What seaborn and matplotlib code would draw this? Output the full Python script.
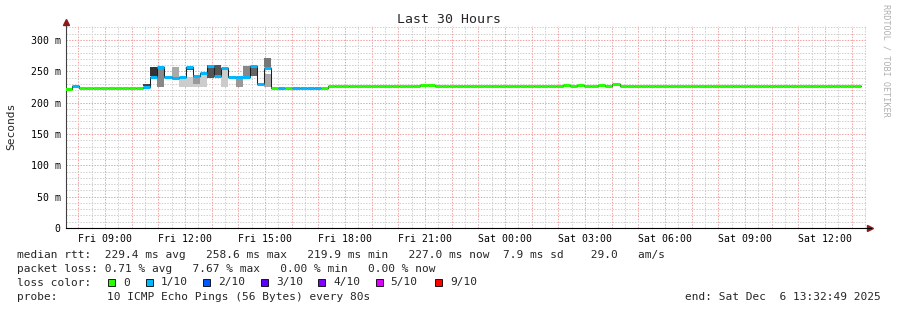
import numpy as np
import pandas as pd
import matplotlib
matplotlib.use("Agg")
import matplotlib.pyplot as plt
import matplotlib.dates as mdates
from matplotlib.patches import Rectangle
from matplotlib.ticker import MultipleLocator, FuncFormatter
import seaborn as sns

# ---------------- data ----------------
title = "Last 30 Hours"
window_start = pd.Timestamp("2025-12-05 07:32:49")
window_end = pd.Timestamp("2025-12-06 13:32:49")
sample_start = "2025-12-05 07:29:45"
sample_step = "16min"

median_ms = [
    221, 226, 224, 224, 224, 224, 224, 224, 224, 224,
    224, 225, 241.7, 257.5, 241, 239.5, 241.7, 257.5, 242, 247.3,
    258.5, 242.5, 255.3, 241, 241, 241, 258.5, 230, 256, 224,
    224, 224, 224, 224, 224, 224, 224, 226.5, 226.5, 226.5,
    226.5, 226.5, 226.5, 226.5, 226.5, 226.5, 226.5, 226.5, 226.5, 226.5,
    228, 228, 226.5, 226.5, 226.5, 226.5, 226.5, 226.5, 226.5, 226.5,
    226.5, 226.5, 226.5, 226.5, 226.5, 226.5, 226.5, 226.5, 226.5, 226.5,
    228, 226, 228, 226.5, 226.5, 228, 226.5, 229, 226.5, 226.5,
    226.5, 226.5, 226.5, 226.5, 226.5, 226.5, 226.5, 226.5, 226.5, 226.5,
    226.5, 226.5, 226.5, 226.5, 226.5, 226.5, 226.5, 226.5, 226.5, 226.5,
    226.5, 226.5, 226.5, 226.5, 226.5, 226.5, 226.5, 226.5, 226.5, 226.5,
    226.5, 226.5,
]
loss_count = [
    0, 1, 0, 0, 0, 0, 0, 0, 0, 0,
    0, 1, 1, 1, 1, 1, 1, 1, 1, 1,
    1, 1, 1, 1, 1, 1, 1, 1, 1, 0,
    1, 0, 1, 1, 1, 1, 0, 0, 0, 0,
] + [0] * 72

smoke_index = [11, 12, 13, 14, 15, 16, 17, 17, 18, 18, 19, 20, 21, 22, 24, 25, 26, 27, 28, 28]
smoke_low = [226, 242, 225, 224.5, 241, 225, 225, 252, 225, 229, 225, 239, 244, 225, 225, 242, 242, 224.5, 225, 257]
smoke_high = [230, 257, 255, 225.5, 257, 239, 241, 256, 241, 241, 245, 260, 260, 254, 239, 258, 258, 225.5, 246, 271]
smoke_gray = ["#444444", "#333333", "#888888", "#cccccc", "#aaaaaa", "#cccccc", "#cccccc", "#555555",
              "#cccccc", "#999999", "#cccccc", "#555555", "#555555", "#cccccc", "#999999", "#888888",
              "#666666", "#cccccc", "#aaaaaa", "#777777"]

loss_labels = ["0", "1/10", "2/10", "3/10", "4/10", "5/10", "9/10"]
loss_colors = ["#26ff00", "#00b8ff", "#0059ff", "#5e00ff", "#7e00ff", "#dd00ff", "#ff0000"]

y_ticks = [0, 50, 100, 150, 200, 250, 300]
y_labels = ["0", "50 m", "100 m", "150 m", "200 m", "250 m", "300 m"]

line_rtt = "median rtt:  229.4 ms avg   258.6 ms max   219.9 ms min   227.0 ms now  7.9 ms sd    29.0   am/s"
line_loss = "packet loss: 0.71 % avg   7.67 % max   0.00 % min   0.00 % now"
probe_label = "probe:"
probe_text = "10 ICMP Echo Pings (56 Bytes) every 80s"
end_text = "end: Sat Dec  6 13:32:49 2025"

# ---------------- figure ----------------
sns.set_theme(style="white")
plt.rcParams["font.family"] = ["DejaVu Sans Mono", "DejaVu Sans"]
W, H = 897, 310
fig = plt.figure(figsize=(W / 100, H / 100), dpi=100)
fig.patch.set_facecolor("white")
ax = fig.add_axes([66.25 / W, 82 / H, 800 / W, (228 - 26.2) / H])
ax.set_facecolor("white")

times = pd.date_range(start=sample_start, periods=len(median_ms), freq=sample_step)
step_td = pd.Timedelta(sample_step)
df = pd.DataFrame({"time": times, "median": median_ms, "loss": loss_count})

# smoke
for idx, lo, hi, g in zip(smoke_index, smoke_low, smoke_high, smoke_gray):
    ax.bar(times[idx], hi - lo, bottom=lo, width=step_td, align="edge",
           color=g, edgecolor="none", linewidth=0, zorder=2)

# black median step line
df_ext = pd.concat([df, pd.DataFrame({"time": [times[-1] + step_td], "median": [median_ms[-1]], "loss": [0]})],
                   ignore_index=True)
sns.lineplot(data=df_ext, x="time", y="median", drawstyle="steps-post", color="#202020",
             linewidth=0.75, ax=ax, zorder=3)

# loss coloured median segments
seg_colors = [loss_colors[l] for l in loss_count]
ax.hlines(df["median"], times, times + step_td, colors=seg_colors, linewidth=2.2,
          zorder=4, capstyle="butt")

ax.set_xlim(window_start, window_end)
ax.set_ylim(0, 322)

# grid
ax.yaxis.set_minor_locator(MultipleLocator(10))
ax.set_yticks(y_ticks)
ax.set_yticklabels(y_labels)
ax.xaxis.set_major_locator(mdates.HourLocator(interval=1))
ax.xaxis.set_minor_locator(mdates.MinuteLocator(byminute=[30]))


def fmt(x, pos):
    d = mdates.num2date(x)
    return d.strftime("%a %H:%M") if d.hour % 3 == 0 else ""


ax.xaxis.set_major_formatter(FuncFormatter(fmt))
ax.set_axisbelow(True)
ax.grid(which="minor", color="#cfcfcf", linestyle=(0, (1.4, 1.4)), linewidth=0.72)
ax.grid(which="major", color="#f2a0a0", linestyle=(0, (1.4, 1.4)), linewidth=0.72)
ax.tick_params(which="both", length=0, labelsize=7.1, colors="black")
ax.tick_params(axis="y", pad=4)
ax.tick_params(axis="x", pad=4)
ax.set_xlabel("")
ax.set_ylabel("")

for s in ["top", "right"]:
    ax.spines[s].set_visible(False)
ax.spines["left"].set_color("#404040")
ax.spines["bottom"].set_color("black")
ax.spines["left"].set_linewidth(0.8)
ax.spines["bottom"].set_linewidth(0.8)
ax.spines["bottom"].set_bounds(mdates.date2num(window_start),
                               mdates.date2num(window_end + pd.Timedelta("10min")))

# arrows
ax.plot([0], [1.02], marker="^", color="#8b1a1a", markersize=4, transform=ax.transAxes, clip_on=False)
ax.plot([1.005], [0], marker=">", color="#8b1a1a", markersize=4, transform=ax.transAxes, clip_on=False)

# texts
mono = "DejaVu Sans Mono"
fig.text(448.5 / W, 1 - 19.5 / H, title, ha="center", va="center", fontsize=9.5, family=mono)
fig.text(11 / W, 1 - 126 / H, "Seconds", rotation=90, ha="center", va="center", fontsize=8.1, family=mono)
fig.text(886 / W, 1 - 4 / H, "RRDTOOL / TOBI OETIKER", rotation=-90, ha="center", va="top",
         fontsize=6.1, family=mono, color="#b0b0b0")

fs = 7.98
fig.text(16.7 / W, 1 - 255 / H, line_rtt, ha="left", va="center", fontsize=fs, family=mono)
fig.text(16.7 / W, 1 - 268.5 / H, line_loss, ha="left", va="center", fontsize=fs, family=mono)
fig.text(16.7 / W, 1 - 282.5 / H, "loss color:", ha="left", va="center", fontsize=fs, family=mono)
sq_x = [108.3, 145.7, 203.3, 260.7, 318.3, 375.7, 435.0]
lab_x = [123.3, 160.7, 218.3, 276.0, 333.3, 390.7, 450.0]
for sx, lx, lab, c in zip(sq_x, lab_x, loss_labels, loss_colors):
    fig.add_artist(Rectangle((sx / W, 1 - 286.2 / H), 7 / W, 7 / H, transform=fig.transFigure,
                             facecolor=c, edgecolor="black", linewidth=0.6))
    fig.text(lx / W, 1 - 282.5 / H, lab, ha="left", va="center", fontsize=fs, family=mono)
fig.text(16.7 / W, 1 - 296.5 / H, probe_label, ha="left", va="center", fontsize=fs, family=mono)
fig.text(107.3 / W, 1 - 296.5 / H, probe_text, ha="left", va="center", fontsize=fs, family=mono)
fig.text(880.5 / W, 1 - 296.5 / H, end_text, ha="right", va="center", fontsize=fs, family=mono)

fig.savefig("out.png", dpi=100, facecolor="white")
